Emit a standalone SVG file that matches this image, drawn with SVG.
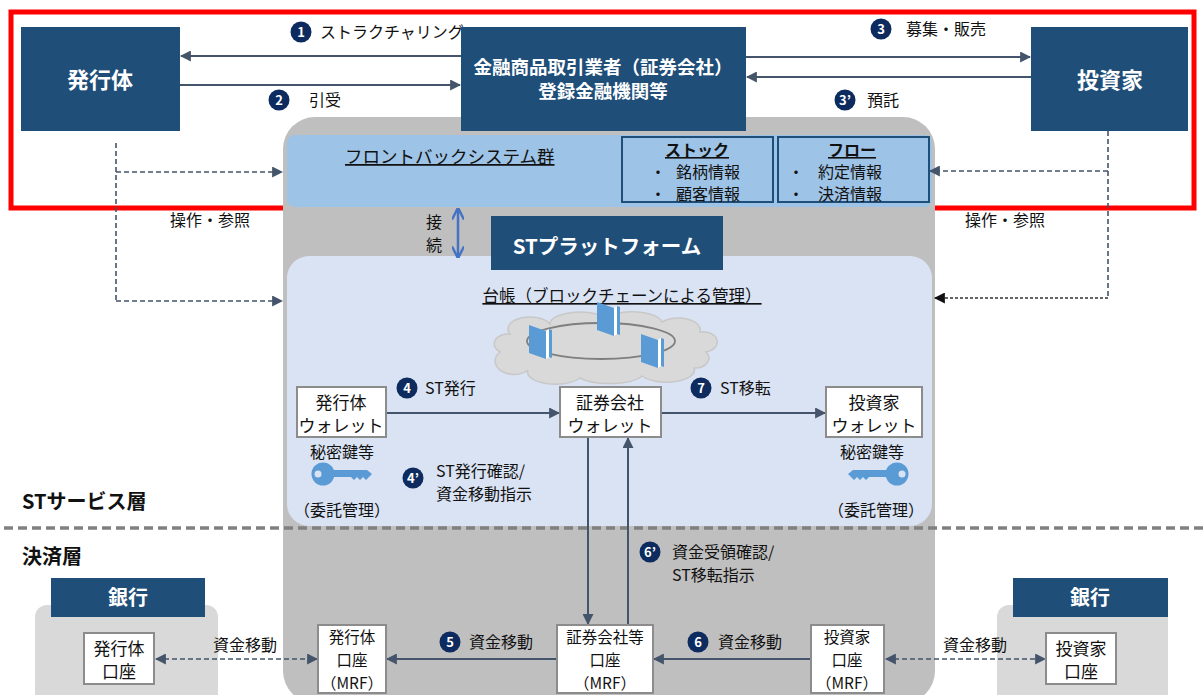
<svg xmlns="http://www.w3.org/2000/svg" width="1203" height="695" viewBox="0 0 1203 695" font-family="'Noto Sans CJK JP', 'Noto Sans', sans-serif">
  <style>
    .dk { fill: #1F4E79; }
    .hd { fill: #fff; font-weight: bold; text-anchor: middle; }
    .lbl { font-size: 16px; fill: #111; }
    .mid { text-anchor: middle; }
    .box { fill: #fff; stroke: #8C8C8C; stroke-width: 2; }
    .bt { font-size: 17px; fill: #111; text-anchor: middle; }
    .bs { font-size: 15.5px; fill: #111; text-anchor: middle; }
    .ln { stroke: #44546A; stroke-width: 2; fill: none; }
    .dash { stroke: #44546A; stroke-width: 1.6; fill: none; stroke-dasharray: 5 3; }
    .num { fill: #0D2B5E; }
    .numt { fill: #fff; font-size: 13px; font-weight: bold; text-anchor: middle; }
    .layer { font-size: 20px; font-weight: bold; fill: #111; }
  </style>
  <defs>
    <marker id="ah" viewBox="0 0 10 10" refX="9" refY="5" markerWidth="11" markerHeight="11" markerUnits="userSpaceOnUse" orient="auto-start-reverse">
      <path d="M0,0 L10,5 L0,10 z" fill="#44546A"/>
    </marker>
    <marker id="ahk" viewBox="0 0 10 10" refX="9" refY="5" markerWidth="11" markerHeight="11" markerUnits="userSpaceOnUse" orient="auto-start-reverse">
      <path d="M0,0 L10,5 L0,10 z" fill="#111"/>
    </marker>
    <marker id="ahb" viewBox="0 0 10 10" refX="8" refY="5" markerWidth="12" markerHeight="12" markerUnits="userSpaceOnUse" orient="auto-start-reverse">
      <path d="M0,0 L10,5 L0,10" fill="none" stroke="#4472C4" stroke-width="2"/>
    </marker>
    <g id="book">
      <polygon points="0,0 17,6 17,34 0,28" fill="#5B9BD5"/>
      <polygon points="17,6 20,4 20,32 17,34" fill="#fff"/>
      <polygon points="20,4 23,5 23,33 20,32" fill="#5B9BD5"/>
    </g>
    <g id="key">
      <circle cx="0" cy="0" r="11.5" fill="#5B9BD5"/>
      <circle cx="-5" cy="0" r="3.5" fill="#DAE3F3"/>
      <path d="M8,-4 H44 L49,0 L46,3 L43,6 L40,3 L37,6 L34,3 L31,6 L28,3 L8,3 Z" fill="#5B9BD5"/>
    </g>
  </defs>

  <!-- highlighted business frame -->
  <rect x="11" y="12" width="1183" height="196" fill="none" stroke="#FF0000" stroke-width="5"/>

  <!-- ST platform backdrop -->
  <rect x="283" y="117" width="652" height="586" rx="32" fill="#BFBFBF"/>
  <rect x="287" y="135" width="645" height="72" rx="8" fill="#9DC3E6"/>
  <rect x="287" y="256" width="645" height="270" rx="22" fill="#DAE3F3"/>

  <!-- layer separator -->
  <line x1="4" y1="528" x2="1203" y2="528" stroke="#808080" stroke-width="3.5" stroke-dasharray="9 5"/>
  <text class="layer" x="22" y="509">STサービス層</text>
  <text class="layer" x="22" y="564">決済層</text>

  <!-- bank backdrops -->
  <rect x="35" y="605" width="183" height="120" rx="12" fill="#D9D9D9"/>
  <rect x="997" y="605" width="171" height="120" rx="12" fill="#D9D9D9"/>

  <!-- connectors -->
  <g id="connectors">
    <line class="ln" x1="461" y1="56" x2="181" y2="56" marker-end="url(#ah)"/>
    <line class="ln" x1="180" y1="85" x2="460" y2="85" marker-end="url(#ah)"/>
    <line class="ln" x1="746" y1="57" x2="1030" y2="57" marker-end="url(#ah)"/>
    <line class="ln" x1="1031" y1="77" x2="747" y2="77" marker-end="url(#ah)"/>

    <path class="dash" d="M116,143 V301"/>
    <path class="dash" d="M116,172 H282" marker-end="url(#ah)"/>
    <path class="dash" d="M116,301 H282" marker-end="url(#ah)"/>
    <path class="dash" d="M1108,131 V298"/>
    <path class="dash" d="M1108,171 H930" marker-end="url(#ah)"/>
    <path d="M1108,298 H935" fill="none" stroke="#333" stroke-width="1.4" stroke-dasharray="3 2" marker-end="url(#ahk)"/>

    <line x1="458" y1="210" x2="458" y2="256" stroke="#4472C4" stroke-width="2.5" marker-start="url(#ahb)" marker-end="url(#ahb)"/>

    <line class="ln" x1="386" y1="413" x2="559" y2="413" marker-end="url(#ah)"/>
    <line class="ln" x1="661" y1="413" x2="825" y2="413" marker-end="url(#ah)"/>

    <line class="ln" x1="588" y1="437" x2="588" y2="624" marker-end="url(#ah)"/>
    <line class="ln" x1="628" y1="625" x2="628" y2="438" marker-end="url(#ah)"/>

    <line class="ln" x1="557" y1="659" x2="387" y2="659" marker-end="url(#ah)"/>
    <line class="ln" x1="811" y1="659" x2="654" y2="659" marker-end="url(#ah)"/>

    <line class="dash" x1="156" y1="659" x2="317" y2="659" marker-start="url(#ah)" marker-end="url(#ah)"/>
    <line class="dash" x1="886" y1="659" x2="1045" y2="659" marker-start="url(#ah)" marker-end="url(#ah)"/>
  </g>

  <!-- connector labels -->
  <g id="labels">
    <circle class="num" cx="301" cy="32" r="10.5"/><text class="numt" x="301" y="37">1</text>
    <text class="lbl" x="320" y="38">ストラクチャリング</text>
    <circle class="num" cx="279" cy="100" r="10.5"/><text class="numt" x="279" y="105">2</text>
    <text class="lbl" x="309" y="106">引受</text>
    <circle class="num" cx="881" cy="29" r="10.5"/><text class="numt" x="881" y="34">3</text>
    <text class="lbl" x="906" y="35">募集・販売</text>
    <circle class="num" cx="845" cy="100" r="10.5"/><text class="numt" x="845" y="105">3’</text>
    <text class="lbl" x="867" y="106">預託</text>

    <text class="lbl mid" x="210" y="226">操作・参照</text>
    <text class="lbl mid" x="1005" y="226">操作・参照</text>

    <text class="lbl" x="426" y="228">接</text>
    <text class="lbl" x="426" y="251">続</text>

    <circle class="num" cx="407" cy="388" r="10.5"/><text class="numt" x="407" y="393">4</text>
    <text class="lbl" x="425" y="394">ST発行</text>
    <circle class="num" cx="701" cy="388" r="10.5"/><text class="numt" x="701" y="393">7</text>
    <text class="lbl" x="720" y="394">ST移転</text>
    <circle class="num" cx="413" cy="478" r="10.5"/><text class="numt" x="413" y="483">4’</text>
    <text class="lbl" x="436" y="477">ST発行確認/</text>
    <text class="lbl" x="436" y="500">資金移動指示</text>

    <circle class="num" cx="650" cy="552" r="10.5"/><text class="numt" x="650" y="557">6’</text>
    <text class="lbl" x="672" y="558">資金受領確認/</text>
    <text class="lbl" x="672" y="581">ST移転指示</text>

    <circle class="num" cx="450" cy="642" r="10.5"/><text class="numt" x="450" y="647">5</text>
    <text class="lbl" x="469" y="648">資金移動</text>
    <circle class="num" cx="698" cy="642" r="10.5"/><text class="numt" x="698" y="647">6</text>
    <text class="lbl" x="718" y="648">資金移動</text>

    <text class="lbl mid" x="245" y="651">資金移動</text>
    <text class="lbl mid" x="975" y="651">資金移動</text>
  </g>

  <!-- top actors -->
  <g id="issuer">
    <rect class="dk" x="21" y="27" width="159" height="104"/>
    <text class="hd" x="100" y="88" font-size="22">発行体</text>
  </g>
  <g id="securities-firm">
    <rect class="dk" x="461" y="27" width="285" height="104"/>
    <text class="hd" x="603" y="74" font-size="18.5">金融商品取引業者（証券会社）</text>
    <text class="hd" x="603" y="98" font-size="18.5">登録金融機関等</text>
  </g>
  <g id="investor">
    <rect class="dk" x="1031" y="27" width="157" height="104"/>
    <text class="hd" x="1110" y="88" font-size="22">投資家</text>
  </g>

  <!-- front/back office systems -->
  <g id="front-back-systems">
    <text x="345" y="163" font-size="17.5" fill="#111" text-decoration="underline">フロントバックシステム群</text>
    <rect x="622" y="137" width="151" height="65" fill="none" stroke="#1F4E79" stroke-width="2"/>
    <text x="697" y="156" font-size="16" font-weight="bold" fill="#111" text-anchor="middle" text-decoration="underline">ストック</text>
    <text class="lbl" x="650" y="178">・</text>
    <text class="lbl" x="676" y="178">銘柄情報</text>
    <text class="lbl" x="650" y="200">・</text>
    <text class="lbl" x="676" y="200">顧客情報</text>
    <rect x="778" y="137" width="151" height="65" fill="none" stroke="#1F4E79" stroke-width="2"/>
    <text x="852" y="156" font-size="16" font-weight="bold" fill="#111" text-anchor="middle" text-decoration="underline">フロー</text>
    <text class="lbl" x="788" y="178">・</text>
    <text class="lbl" x="818" y="178">約定情報</text>
    <text class="lbl" x="788" y="200">・</text>
    <text class="lbl" x="818" y="200">決済情報</text>
  </g>

  <g id="st-platform">
    <rect class="dk" x="491" y="216" width="232" height="54"/>
    <text class="hd" x="607" y="254" font-size="20.5">STプラットフォーム</text>
  </g>

  <!-- ledger -->
  <g id="ledger">
    <text x="622" y="302" font-size="16.5" fill="#111" text-anchor="middle" text-decoration="underline">台帳（ブロックチェーンによる管理）</text>
    <path d="M500,352 a14,10 0 0 1 10,-18 a22,12 0 0 1 40,-10 a30,12 0 0 1 56,-6 a30,12 0 0 1 56,4 a22,12 0 0 1 38,10 a14,10 0 0 1 6,20 a14,10 0 0 1 -12,16 a28,12 0 0 1 -52,8 a35,12 0 0 1 -62,2 a28,12 0 0 1 -52,-8 a14,10 0 0 1 -28,-18 z" fill="#D9D9D9" stroke="#C8C8C8" stroke-width="1.5"/>
    <ellipse cx="601" cy="341" rx="74" ry="18" fill="none" stroke="#7F7F7F" stroke-width="1.8"/>
    <use href="#book" x="529" y="325"/>
    <use href="#book" x="597" y="302"/>
    <use href="#book" x="641" y="334"/>
  </g>

  <!-- wallets -->
  <g id="issuer-wallet">
    <rect class="box" x="297" y="387" width="89" height="50"/>
    <text class="bt" x="341" y="409">発行体</text>
    <text class="bt" x="341" y="432">ウォレット</text>
  </g>
  <g id="firm-wallet">
    <rect class="box" x="560" y="387" width="101" height="50"/>
    <text class="bt" x="610" y="409">証券会社</text>
    <text class="bt" x="610" y="432">ウォレット</text>
  </g>
  <g id="investor-wallet">
    <rect class="box" x="826" y="387" width="96" height="50"/>
    <text class="bt" x="874" y="409">投資家</text>
    <text class="bt" x="874" y="432">ウォレット</text>
  </g>

  <!-- private keys -->
  <g id="issuer-key">
    <text class="lbl mid" x="342" y="458">秘密鍵等</text>
    <use href="#key" x="323" y="474"/>
    <text class="lbl mid" x="342" y="516">（委託管理）</text>
  </g>
  <g id="investor-key">
    <text class="lbl mid" x="872" y="458">秘密鍵等</text>
    <use href="#key" transform="translate(897,474) scale(-1,1)"/>
    <text class="lbl mid" x="876" y="516">（委託管理）</text>
  </g>

  <!-- settlement accounts -->
  <g id="issuer-mrf">
    <rect class="box" x="318" y="625" width="68" height="68"/>
    <text class="bs" x="352" y="643">発行体</text>
    <text class="bs" x="352" y="666">口座</text>
    <text class="bs" x="352" y="689">（MRF）</text>
  </g>
  <g id="firm-mrf">
    <rect class="box" x="557" y="625" width="96" height="68"/>
    <text class="bs" x="605" y="643">証券会社等</text>
    <text class="bs" x="605" y="666">口座</text>
    <text class="bs" x="605" y="689">（MRF）</text>
  </g>
  <g id="investor-mrf">
    <rect class="box" x="811" y="625" width="73" height="68"/>
    <text class="bs" x="847" y="643">投資家</text>
    <text class="bs" x="847" y="666">口座</text>
    <text class="bs" x="847" y="689">（MRF）</text>
  </g>

  <!-- banks -->
  <g id="bank-left">
    <rect class="dk" x="51" y="578" width="154" height="39"/>
    <text class="hd" x="128" y="605" font-size="20">銀行</text>
    <rect class="box" x="84" y="633" width="70" height="51"/>
    <text class="bt" x="119" y="655">発行体</text>
    <text class="bt" x="119" y="678">口座</text>
  </g>
  <g id="bank-right">
    <rect class="dk" x="1013" y="578" width="155" height="39"/>
    <text class="hd" x="1090" y="605" font-size="20">銀行</text>
    <rect class="box" x="1046" y="633" width="70" height="51"/>
    <text class="bt" x="1081" y="655">投資家</text>
    <text class="bt" x="1081" y="678">口座</text>
  </g>
</svg>
